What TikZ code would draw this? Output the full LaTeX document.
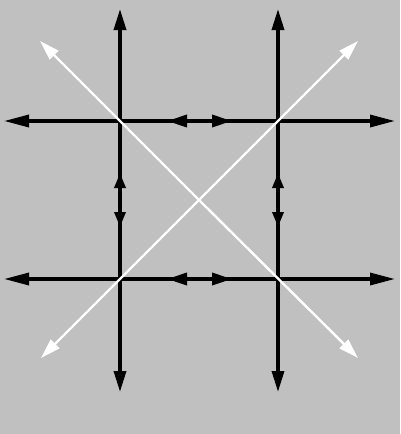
\documentclass[tikz,border=0pt]{standalone}
\usetikzlibrary{arrows.meta}
\definecolor{bg}{RGB}{192,192,192}
\begin{document}
\begin{tikzpicture}[x=1pt,y=-1pt,
  blk/.style={line width=3.3pt,black},
  wht/.style={line width=2.4pt,white},
  endv/.style={-{Triangle[length=21pt,width=12pt]}},
  endh/.style={-{Triangle[length=25pt,width=12pt]}},
  midv/.style={-{Triangle[length=15pt,width=11pt]}},
  midh/.style={-{Triangle[length=20pt,width=12pt]}},
  endw/.style={-{Triangle[length=20pt,width=12pt]}}]
\fill[bg] (0,0) rectangle (400,434);
\useasboundingbox (0,0) rectangle (400,434);
% grid points
\coordinate (p11) at (120,121);
\coordinate (p21) at (278,121);
\coordinate (p12) at (120,279);
\coordinate (p22) at (278,279);
\coordinate (c) at (199,200);
% outer ends
\coordinate (t1) at (120,9);
\coordinate (t2) at (278,9);
\coordinate (b1) at (120,392);
\coordinate (b2) at (278,392);
\coordinate (l1) at (4,121);
\coordinate (l2) at (4,279);
\coordinate (r1) at (395,121);
\coordinate (r2) at (395,279);
% middle points of the square sides
\coordinate (mt) at (199,121);
\coordinate (mb) at (199,279);
\coordinate (ml) at (120,200);
\coordinate (mr) at (278,200);
% middle arrow tips
\coordinate (mtl) at (167,121);
\coordinate (mtr) at (232,121);
\coordinate (mbl) at (167,279);
\coordinate (mbr) at (232,279);
\coordinate (mlu) at (120,173);
\coordinate (mld) at (120,227);
\coordinate (mru) at (278,173);
\coordinate (mrd) at (278,227);
% white tips
\coordinate (wtl) at (40,41);
\coordinate (wtr) at (358,41);
\coordinate (wbl) at (41,358);
\coordinate (wbr) at (358,358);
% black lines with end arrows
\draw[blk,endv] (p11) -- (t1);
\draw[blk,endv] (p21) -- (t2);
\draw[blk,endv] (p12) -- (b1);
\draw[blk,endv] (p22) -- (b2);
\draw[blk,endh] (p11) -- (l1);
\draw[blk,endh] (p12) -- (l2);
\draw[blk,endh] (p21) -- (r1);
\draw[blk,endh] (p22) -- (r2);
% square sides
\draw[blk] (p11) -- (p21);
\draw[blk] (p12) -- (p22);
\draw[blk] (p11) -- (p12);
\draw[blk] (p21) -- (p22);
% middle arrows
\draw[blk,midh] (mt) -- (mtl);
\draw[blk,midh] (mt) -- (mtr);
\draw[blk,midh] (mb) -- (mbl);
\draw[blk,midh] (mb) -- (mbr);
\draw[blk,midv] (ml) -- (mlu);
\draw[blk,midv] (ml) -- (mld);
\draw[blk,midv] (mr) -- (mru);
\draw[blk,midv] (mr) -- (mrd);
% white diagonals
\draw[wht,endw] (c) -- (wtl);
\draw[wht,endw] (c) -- (wtr);
\draw[wht,endw] (c) -- (wbl);
\draw[wht,endw] (c) -- (wbr);
\end{tikzpicture}
\end{document}
